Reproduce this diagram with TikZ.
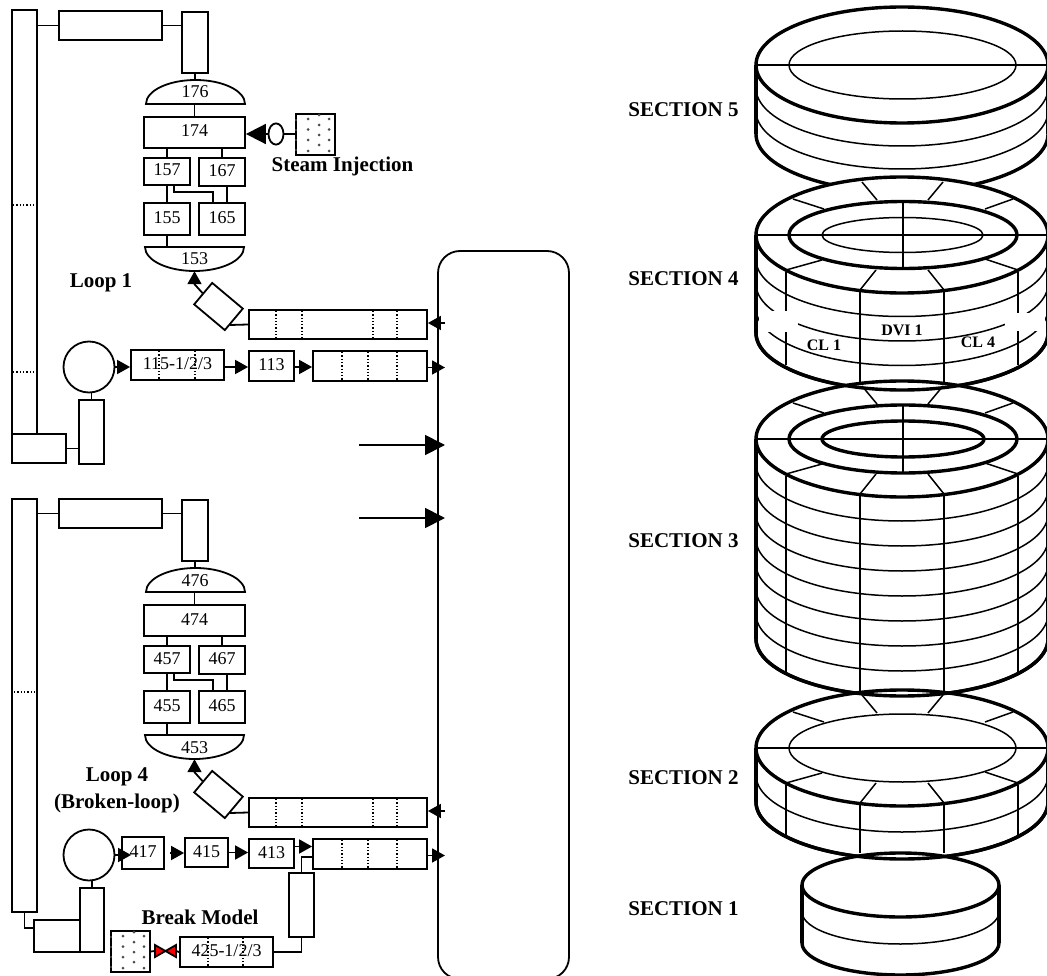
\documentclass[tikz,border=0pt]{standalone}
\usepackage{fontspec}
\setmainfont{Liberation Serif}
\usetikzlibrary{arrows.meta,positioning,shapes.geometric}
\begin{document}
\begin{tikzpicture}[x=1pt,y=-1pt,
box/.style={draw,line width=1.8pt,fill=white,inner sep=0pt,text height=12pt,text depth=3pt,font=\fontsize{18}{20}\selectfont},
numlabel/.style={inner sep=0pt,text height=12pt,text depth=0pt,minimum width=99pt,minimum height=24pt,font=\fontsize{18}{20}\selectfont},
boldlabel/.style={inner sep=0pt,font=\fontsize{21}{27}\selectfont\bfseries},
smallbold/.style={inner sep=0pt,font=\fontsize{16}{18}\selectfont\bfseries},
pipe/.style={line width=1.8pt},
arrow/.style={-{Triangle[length=13pt,width=14pt]},line width=1.8pt},
bigarrow/.style={-{Triangle[length=20pt,width=20pt]},line width=1.8pt},
dotline/.style={line width=1.3pt,dotted},
thinl/.style={line width=1.5pt},
thickl/.style={line width=3.4pt}
]
\useasboundingbox (0,0) rectangle (1047,976);
\node[box,rounded corners=22pt,minimum width=131pt,minimum height=728pt] (vessel) at (503.5,615) {};
\coordinate (dvi1a) at (359,445);
\coordinate (dvi1b) at (445,445);
\coordinate (dvi4a) at (359,518);
\coordinate (dvi4b) at (445,518);
\draw[bigarrow] (dvi1a) -- (dvi1b);
\draw[bigarrow] (dvi4a) -- (dvi4b);
\node[box,minimum width=25pt,minimum height=424pt] (riser1) at (24.5,222) {};
\node[box,minimum width=25pt,minimum height=413pt] (riser4) at (24.5,705.5) {};
\foreach \lp/\dy in {1/0,4/488}{
\node[box,minimum width=103pt,minimum height=29pt] (head\lp) at (110.5,25.5+\dy) {};
\node[box,minimum width=26pt,minimum height=61pt] (top\lp) at (195,42.5+\dy) {};
\draw[pipe] (riser\lp.east |- head\lp) -- (head\lp.west);
\draw[pipe] (head\lp.east) -- (head\lp.east -| top\lp.west);
\draw[pipe,fill=white] (146,104+\dy) arc[start angle=180,end angle=0,x radius=49.5pt,y radius=24pt] -- cycle;
\draw[pipe,fill=white] (145,247+\dy) arc[start angle=180,end angle=360,x radius=49.5pt,y radius=24pt] -- cycle;
\node[numlabel] (d\lp76) at (195,92+\dy) {\lp76};
\node[numlabel] (d\lp53) at (194.5,259+\dy) {\lp53};
\node[box,minimum width=101pt,minimum height=31pt] (n\lp74) at (194.5,132.5+\dy) {\lp74};
\node[box,minimum width=46pt,minimum height=27pt] (n\lp57) at (167,171.5+\dy) {\lp57};
\node[box,minimum width=46pt,minimum height=28pt] (n\lp67) at (222,172+\dy) {\lp67};
\node[box,minimum width=46pt,minimum height=32pt] (n\lp55) at (167,219+\dy) {\lp55};
\node[box,minimum width=46pt,minimum height=32pt] (n\lp65) at (222,219+\dy) {\lp65};
\draw[pipe] (top\lp.south) -- (top\lp.south |- d\lp76.north);
\draw[pipe] (n\lp74.north) -- (n\lp74.north |- d\lp76.south);
\draw[pipe] (n\lp57.north) -- (n\lp57.north |- n\lp74.south);
\draw[pipe] (n\lp67.north) -- (n\lp67.north |- n\lp74.south);
\draw[pipe] (n\lp57.south) -- (n\lp55.north);
\draw[pipe] ([xshift=5pt]n\lp67.south) -- ([xshift=5pt]n\lp65.north);
\draw[pipe] ([xshift=7pt]n\lp57.south) -- ++(0,6) -| ([xshift=-9pt]n\lp65.north);
\draw[pipe] (n\lp55.south) -- (n\lp55.south |- d\lp53.north);
\node[box,minimum width=40pt,minimum height=28pt,rotate=-40] (elbow\lp) at (218.5,306.5+\dy) {};
\draw[arrow] (elbow\lp.west) -- ([yshift=-13pt]d\lp53.south) -- (d\lp53.south);
\coordinate (tap\lp) at (230,325+\dy);
\node[box,minimum width=178pt,minimum height=29pt] (cold\lp) at (338,324.5+\dy) {};
\draw[pipe] (cold\lp.west) -- (tap\lp);
\foreach \x in {276,302,373,397}
  \draw[dotline] (\x,311+\dy) -- (\x,338+\dy);
\coordinate (in\lp) at (445,323+\dy);
\draw[arrow] (in\lp) -- (cold\lp.east |- in\lp);
\node[box,minimum width=114pt,minimum height=30pt] (hot\lp) at (370,366+\dy) {};
\foreach \x in {342,368,397}
  \draw[dotline] (\x,352+\dy) -- (\x,380+\dy);
\coordinate (out\lp) at (445,367.5+\dy);
\draw[arrow] (hot\lp.east |- out\lp) -- (out\lp);
\node[box,circle,minimum size=51pt] (pump\lp) at (89,367+\dy) {};
}
\draw[dotline] (13,205) -- (37,205);
\draw[dotline] (13,372) -- (37,372);
\draw[dotline] (14,692) -- (37,692);
\node[box,minimum width=54pt,minimum height=29pt] (base1) at (39,448.5) {};
\node[box,minimum width=25pt,minimum height=64pt] (feed1) at (91.5,432) {};
\draw[pipe] (base1.east) -- (base1.east -| feed1.west);
\draw[pipe] (feed1.north) -- (feed1.north |- pump1.south);
\draw[dotline] (159,351) -- (159,380);
\draw[dotline] (195,351) -- (195,380);
\node[box,fill=none,minimum width=93pt,minimum height=30pt] (n115) at (177.5,365) {115-1/2/3};
\node[box,minimum width=45pt,minimum height=30pt] (n113) at (271.5,366) {113};
\draw[arrow] (pump1.east) -- (n115.west |- pump1);
\draw[arrow] (n115.east |- pump1) -- (n113.west |- pump1);
\draw[arrow] (n113.east |- pump1) -- (hot1.west |- pump1);
\node[box,minimum width=39pt,minimum height=41pt] (tank1) at (315.5,134.5) {};
\node[box,ellipse,minimum width=15pt,minimum height=17pt] (valve1) at (276,134) {};
\draw[pipe] (valve1.east) -- (valve1.east -| tank1.west);
\draw[bigarrow] (valve1.west) -- (valve1.west -| n174.east);
\node[boldlabel,anchor=base] (steam) at (342.5,172) {Steam Injection};
\node[boldlabel,anchor=base] (loop1) at (101,288) {Loop 1};
\node[box,minimum width=46pt,minimum height=32pt] (base4) at (57,936) {};
\node[box,minimum width=24pt,minimum height=64pt] (feed4) at (92,920) {};
\draw[pipe] (riser4.south) |- ([yshift=8pt]base4.west);
\draw[pipe] (feed4.north) -- (feed4.north |- pump4.south);
\node[box,fill=none,minimum width=42pt,minimum height=32pt] (n417) at (143,853) {417};
\node[box,minimum width=43pt,minimum height=29pt] (n415) at (206.5,852.5) {415};
\node[box,minimum width=45pt,minimum height=29pt] (n413) at (271.5,853.5) {413};
\draw[arrow] (pump4.east) -- ([xshift=10pt]n417.west |- pump4);
\draw[arrow] ([xshift=5pt]n417.east) -- (n415.west |- n417.east);
\draw[arrow] (n415.east) -- (n415.east -| n413.west);
\draw[arrow] ([yshift=7pt]n413.east) -- ([yshift=7pt]n413.east -| hot4.west);
\node[box,minimum width=25pt,minimum height=64pt] (brk) at (301.5,905) {};
\draw[pipe] (brk.north) |- ([yshift=-3pt]hot4.west);
\draw[dotline] (208,938) -- (208,967);
\draw[dotline] (243,938) -- (243,967);
\node[box,fill=none,minimum width=93pt,minimum height=30pt] (n425) at (226.5,952) {425-1/2/3};
\draw[pipe] (brk.south) |- (n425.east);
\node[box,minimum width=39pt,minimum height=41pt] (tank4) at (130.5,951.5) {};
\node[inner sep=0pt,minimum width=21pt,minimum height=12pt] (valve4) at (165.5,951) {};
\draw[pipe] (tank4.east) -- (valve4.west);
\draw[pipe] (valve4.east) -- (n425.west);
\draw[pipe,fill=red] (155,945) -- (165.5,951) -- (155,957) -- cycle;
\draw[pipe,fill=red] (176,945) -- (165.5,951) -- (176,957) -- cycle;
\foreach \tx/\ty in {296/114,111/931}{
  \foreach \sy in {5,15.5,26,37}{
    \fill[black!70] (\tx+12,\ty+\sy) circle[radius=1.5pt];
    \fill[black!70] (\tx+33,\ty+\sy) circle[radius=1.5pt];
  }
  \foreach \sy in {1,11,21,31}{
    \fill[black!70] (\tx+23,\ty+\sy) circle[radius=1.5pt];
    \fill[black!70] (\tx,\ty+\sy+5) circle[radius=1.2pt];
  }
}
\node[boldlabel,align=center] (loop4) at (117,790) {Loop 4\\(Broken-loop)};
\node[boldlabel,anchor=base] (break) at (200,924) {Break Model};
\draw[thickl] (756,65) -- (756,134);
\draw[thickl] (1048,65) -- (1048,134);
\foreach \k in {1,2}
  \draw[thinl] (756,65+\k*23) arc[start angle=180,end angle=360,x radius=146pt,y radius=58pt];
\draw[thickl] (756,134) arc[start angle=180,end angle=360,x radius=146pt,y radius=58pt];
\draw[thickl,fill=white] (902,65) ellipse[x radius=146pt,y radius=58pt];
\draw[thinl] (756,65) -- (1048,65);
\draw[thinl] (902.5,65) ellipse[x radius=113.5pt,y radius=34pt];
\foreach \cy/\gap/\n/\lo in {235/24.5/3/130,439/25/7/234,748/27/1/87}{
\draw[thickl] (756,\cy) -- (756,\cy+\n*\gap+\gap);
\draw[thickl] (1048,\cy) -- (1048,\cy+\n*\gap+\gap);
\foreach \k in {1,...,\n}
  \draw[thinl] (756,\cy+\k*\gap) arc[start angle=180,end angle=360,x radius=146pt,y radius=57pt];
\draw[thickl] (756,\cy+\n*\gap+\gap) arc[start angle=180,end angle=360,x radius=146pt,y radius=57pt];
\foreach \x in {786,1018}
  \draw[thinl] (\x,\cy+37) -- (\x,\cy+\lo);
\foreach \x in {860,944}
  \draw[thinl] (\x,\cy+56) -- (\x,\cy+\lo+18);
\draw[thickl,fill=white] (902,\cy) ellipse[x radius=146pt,y radius=58pt];
\draw[thinl] (756,\cy) -- (1048,\cy);
\draw[thinl] (862,\cy-53) -- (877,\cy-35);
\draw[thinl] (943,\cy-53) -- (928,\cy-35);
\draw[thinl] (793,\cy-36) -- (824,\cy-26);
\draw[thinl] (1013,\cy-36) -- (985,\cy-26);
\draw[thinl] (786,\cy+35) -- (822,\cy+25);
\draw[thinl] (1018,\cy+35) -- (985,\cy+24);
\draw[thinl] (860,\cy+55) -- (876,\cy+35);
\draw[thinl] (944,\cy+55) -- (928,\cy+35);
}
\draw[thickl] (802,885) -- (802,943);
\draw[thickl] (999,885) -- (999,943);
\draw[thinl] (802,912) arc[start angle=180,end angle=360,x radius=98.5pt,y radius=32pt];
\draw[thickl] (802,943) arc[start angle=180,end angle=360,x radius=98.5pt,y radius=32pt];
\draw[thickl,fill=white] (900.5,885) ellipse[x radius=98.5pt,y radius=32pt];
\foreach \lens in {333,639,802}
  \draw[thickl] (756,\lens) arc[start angle=180,end angle=360,x radius=146pt,y radius=57pt];
\draw[thickl] (903,235) ellipse[x radius=114pt,y radius=33.5pt];
\draw[thinl] (902.5,235) ellipse[x radius=80.5pt,y radius=17.5pt];
\draw[thinl] (903,202) -- (903,268);
\draw[thickl] (903,439) ellipse[x radius=114pt,y radius=34pt];
\draw[thickl] (903,439) ellipse[x radius=81pt,y radius=18pt];
\draw[thinl] (903,405) -- (903,473);
\draw[thinl] (902.5,748) ellipse[x radius=113.5pt,y radius=34pt];
\fill[white] (758.5,311) rectangle (798,332);
\fill[white] (1005,313) rectangle (1045,331);
\node[smallbold,anchor=base] (dvi) at (902,335) {DVI 1};
\node[smallbold,anchor=base] (cl1) at (824,350) {CL 1};
\node[smallbold,anchor=base] (cl4) at (978,348) {CL 4};
\node[boldlabel,anchor=base] (sec5) at (683.5,117) {SECTION 5};
\node[boldlabel,anchor=base] (sec4) at (683.5,286) {SECTION 4};
\node[boldlabel,anchor=base] (sec3) at (683.5,547) {SECTION 3};
\node[boldlabel,anchor=base] (sec2) at (683.5,784) {SECTION 2};
\node[boldlabel,anchor=base] (sec1) at (683.5,915) {SECTION 1};
\end{tikzpicture}
\end{document}
